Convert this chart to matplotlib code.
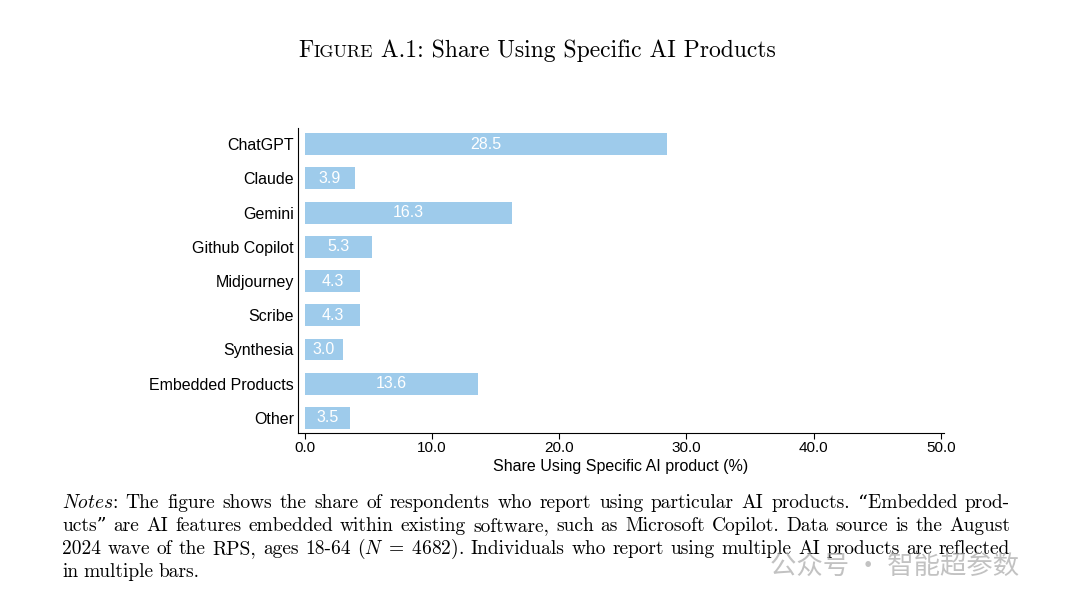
import matplotlib
matplotlib.use('Agg')
import matplotlib.pyplot as plt
from matplotlib.offsetbox import TextArea, HPacker, AnchoredOffsetbox

plt.rcParams['mathtext.fontset'] = 'cm'

# data
products = ['ChatGPT', 'Claude', 'Gemini', 'Github Copilot', 'Midjourney',
            'Scribe', 'Synthesia', 'Embedded Products', 'Other']
shares = [28.5, 3.9, 16.3, 5.3, 4.3, 4.3, 3.0, 13.6, 3.5]
xticks = [0, 10, 20, 30, 40, 50]

bar_color = '#9ecbeb'
sans = ['Liberation Sans', 'DejaVu Sans']
serif = ['cmr10', 'DejaVu Serif']

fig = plt.figure(figsize=(10.8, 6.1), dpi=100)
ax = fig.add_axes([298 / 1080, 1 - 433 / 610, 646 / 1080, 305 / 610])

ypos = list(range(len(products)))
ax.barh(ypos, shares, height=0.64, color=bar_color, left=0)
for y, v in zip(ypos, shares):
    ax.text(v / 2, y, f'{v:.1f}', ha='center', va='center', color='white',
            fontsize=11.5, family=sans)

ax.set_yticks(ypos)
ax.set_yticklabels(products, family=sans, fontsize=11.5)
ax.tick_params(axis='y', length=0, pad=3)
ax.set_xticks(xticks)
ax.set_xticklabels([f'{t:.1f}' for t in xticks], family=sans, fontsize=11)
ax.tick_params(axis='x', length=4, width=0.8, pad=2)
ax.set_xlim(-0.55, 50.25)
ax.set_ylim(8.44, -0.47)
for s in ['top', 'right']:
    ax.spines[s].set_visible(False)
for s in ['left', 'bottom']:
    ax.spines[s].set_linewidth(0.8)
ax.set_xlabel('Share Using Specific AI product (%)', family=sans, fontsize=11.5,
              labelpad=3)

# title in small caps style
parts = [TextArea('F', textprops=dict(family=serif, size=17)),
         TextArea('IGURE', textprops=dict(family=serif, size=13)),
         TextArea(' A.1: Share Using Specific AI Products',
                  textprops=dict(family=serif, size=17))]
box = HPacker(children=parts, align='baseline', pad=0, sep=0)
anch = AnchoredOffsetbox(loc='center', child=box, frameon=False,
                         bbox_to_anchor=(537 / 1080, 1 - 51 / 610),
                         bbox_transform=fig.transFigure, borderpad=0, pad=0)
fig.add_artist(anch)

# notes, justified line by line
lines = [
    ['$\\mathit{Notes}$:', 'The', 'figure', 'shows', 'the', 'share', 'of', 'respondents',
     'who', 'report', 'using', 'particular', 'AI', 'products.', '\u201cEmbedded', 'prod-'],
    ['ucts\u201d', 'are', 'AI', 'features', 'embedded', 'within', 'existing', 'software,',
     'such', 'as', 'Microsoft', 'Copilot.', 'Data', 'source', 'is', 'the', 'August'],
    ['2024', 'wave', 'of', 'the', 'RPS,', 'ages', '18-64', '($N\\;=\\;4682$).',
     'Individuals', 'who', 'report', 'using', 'multiple', 'AI', 'products', 'are',
     'reflected'],
    ['in', 'multiple', 'bars.'],
]
x0, x1 = 62 / 1080, 1010 / 1080
line_y = [503, 526, 549, 572]
fig.canvas.draw()
r = fig.canvas.get_renderer()
for i, (words, yy) in enumerate(zip(lines, line_y)):
    texts = [fig.text(0, 1 - yy / 610, w, family=serif, fontsize=14,
                      va='center') for w in words]
    widths = [t.get_window_extent(r).width / 1080 for t in texts]
    if i < len(lines) - 1:
        gap = (x1 - x0 - sum(widths)) / (len(words) - 1)
    else:
        gap = 5 / 1080
    x = x0
    for t, w in zip(texts, widths):
        t.set_x(x)
        x += w + gap

# watermark
fig.text(770 / 1080, 1 - 566 / 610, '公众号 · 智能超参数', fontsize=19,
         color='#a8a8a8', alpha=0.7, va='center',
         family=['Noto Sans CJK SC', 'DejaVu Sans'])

fig.savefig('out.png', dpi=100)
